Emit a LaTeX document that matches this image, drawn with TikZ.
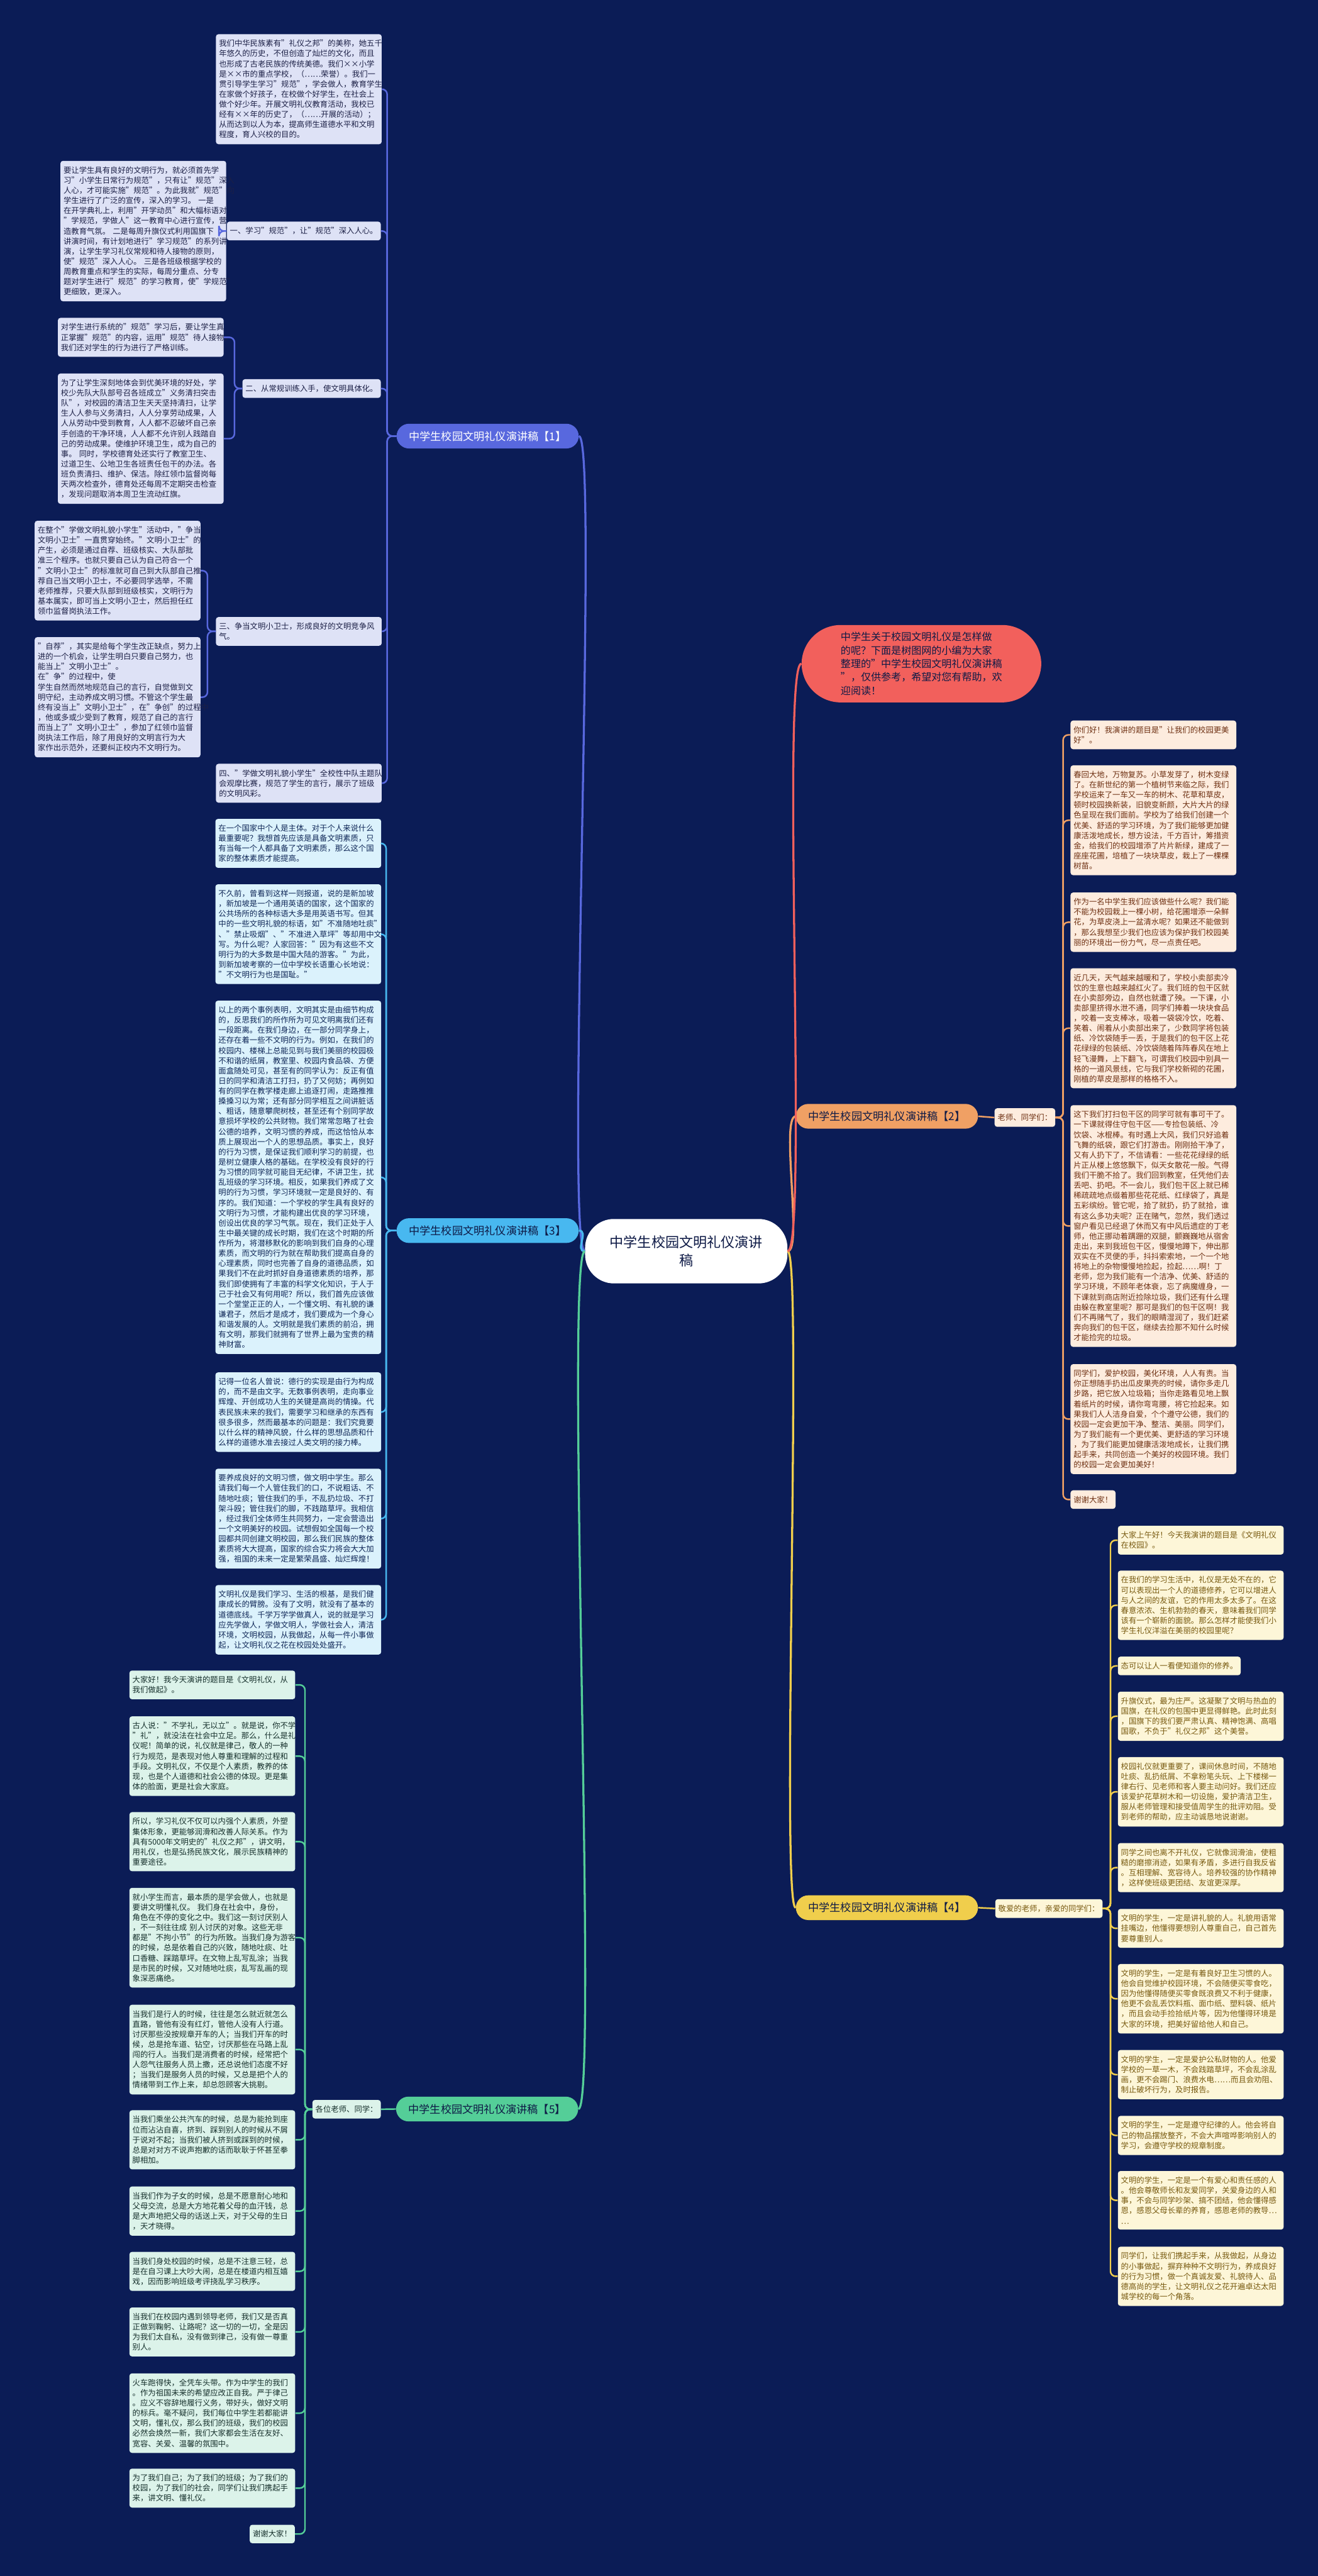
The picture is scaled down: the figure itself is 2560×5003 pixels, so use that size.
\documentclass[tikz,border=0pt]{standalone}
\usepackage{fontspec}
\setmainfont{Noto Sans CJK SC}
\definecolor{bg}{RGB}{11,28,86}
\definecolor{fA}{RGB}{222,226,246}\definecolor{tA}{RGB}{28,32,70}\definecolor{cA}{RGB}{88,104,222}
\definecolor{fC}{RGB}{219,242,252}\definecolor{tC}{RGB}{16,40,88}\definecolor{cC}{RGB}{72,184,240}
\definecolor{fE}{RGB}{220,243,234}\definecolor{tE}{RGB}{22,48,44}\definecolor{cE}{RGB}{84,206,152}
\definecolor{fB}{RGB}{253,236,222}\definecolor{tB}{RGB}{110,48,18}\definecolor{cB}{RGB}{240,160,100}
\definecolor{fD}{RGB}{253,246,216}\definecolor{tD}{RGB}{120,90,16}\definecolor{cD}{RGB}{240,206,76}
\definecolor{pk}{RGB}{242,96,92}\definecolor{navy}{RGB}{14,26,70}
\begin{document}
\begin{tikzpicture}[x=0.5pt,y=-0.5pt,
  box/.style={rounded corners=2.5pt, inner xsep=3pt, inner ysep=5.5pt, align=left,
    font=\fontsize{7.55pt}{9.85pt}\selectfont},
  wbox/.style={box, text width=155pt},
  sA/.style={fill=fA, text=tA}, sC/.style={fill=fC, text=tC}, sE/.style={fill=fE, text=tE},
  sB/.style={fill=fB, text=tB}, sD/.style={fill=fD, text=tD},
  lab/.style={rounded corners=12pt, minimum height=24pt, inner xsep=12pt,
    font=\fontsize{10.5pt}{12pt}\selectfont},
  con/.style={line width=1.5pt, rounded corners=5pt},
  main/.style={line width=2pt}]
\useasboundingbox (0,0) rectangle (2560,5003);
\fill[bg] (0,0) rectangle (2560,5003);

% ---------------- centre
\node[fill=white, text=navy, rounded corners=28pt, inner xsep=24pt, inner ysep=16pt, align=center,
  font=\fontsize{13.5pt}{18pt}\selectfont] (C) at (1333,2430) {中学生校园文明礼仪演讲\\稿};

% ---------------- pink
\node[fill=pk, text=navy, rounded corners=38pt, inner xsep=38pt, inner ysep=7pt, align=left,
  font=\fontsize{9.8pt}{13pt}\selectfont, anchor=east] (P) at (2023,1289) {中学生关于校园文明礼仪是怎样做\\的呢？下面是树图网的小编为大家\\整理的"中学生校园文明礼仪演讲稿\\"，仅供参考，希望对您有帮助，欢\\迎阅读！};

% ---------------- labels
\node[lab, fill=cA, text=white, anchor=west] (L1) at (770,847) {中学生校园文明礼仪演讲稿【1】};
\node[lab, fill=cC, text=navy, anchor=west] (L3) at (770,2390) {中学生校园文明礼仪演讲稿【3】};
\node[lab, fill=cE, text=navy, anchor=west] (L5) at (769,4096) {中学生校园文明礼仪演讲稿【5】};
\node[lab, fill=cB, text=navy, anchor=east] (L2) at (1900,2168) {中学生校园文明礼仪演讲稿【2】};
\node[lab, fill=cD, text=navy, anchor=east] (L4) at (1900,3705) {中学生校园文明礼仪演讲稿【4】};

% ---------------- branch 1
\node[wbox,sA,anchor=north west] (a0) at (419,66) {我们中华民族素有"礼仪之邦"的美称，她五千\\年悠久的历史，不但创造了灿烂的文化，而且\\也形成了古老民族的传统美德。我们××小学\\是××市的重点学校，（……荣誉）。我们一\\贯引导学生学习"规范"，学会做人，教育学生\\在家做个好孩子，在校做个好学生，在社会上\\做个好少年。开展文明礼仪教育活动，我校已\\经有××年的历史了，（……开展的活动）；\\从而达到以人为本，提高师生道德水平和文明\\程度，育人兴校的目的。};
\node[box,sA,anchor=north east] (a1) at (740,430) {一、学习"规范"，让"规范"深入人心。};
\node[wbox,sA,anchor=north west] (a1c) at (117,312) {要让学生具有良好的文明行为，就必须首先学\\习"小学生日常行为规范"，只有让"规范"深入\\人心，才可能实施"规范"。为此我就"规范"向\\学生进行了广泛的宣传，深入的学习。 一是\\在开学典礼上，利用"开学动员"和大幅标语对\\"学规范，学做人"这一教育中心进行宣传，营\\造教育气氛。 二是每周升旗仪式利用国旗下\\讲演时间，有计划地进行"学习规范"的系列讲\\演，让学生学习礼仪常规和待人接物的原则，\\使"规范"深入人心。 三是各班级根据学校的\\周教育重点和学生的实际，每周分重点、分专\\题对学生进行"规范"的学习教育，使"学规范"\\更细致，更深入。};
\node[box,sA,anchor=north east] (a2) at (740,736) {二、从常规训练入手，使文明具体化。};
\node[wbox,sA,anchor=north west] (a2c1) at (112,617) {对学生进行系统的"规范"学习后，要让学生真\\正掌握"规范"的内容，运用"规范"待人接物，\\我们还对学生的行为进行了严格训练。};
\node[wbox,sA,anchor=north west] (a2c2) at (112,725) {为了让学生深刻地体会到优美环境的好处，学\\校少先队大队部号召各班成立"义务清扫突击\\队"，对校园的清洁卫生天天坚持清扫，让学\\生人人参与义务清扫，人人分享劳动成果，人\\人从劳动中受到教育，人人都不忍破坏自己亲\\手创造的干净环境，人人都不允许别人践踏自\\己的劳动成果。使维护环境卫生，成为自己的\\事。 同时，学校德育处还实行了教室卫生、\\过道卫生、公地卫生各班责任包干的办法。各\\班负责清扫、维护、保洁。除红领巾监督岗每\\天两次检查外，德育处还每周不定期突击检查\\，发现问题取消本周卫生流动红旗。};
\node[wbox,sA,anchor=north west] (a3) at (419,1198) {三、争当文明小卫士，形成良好的文明竞争风\\气。};
\node[wbox,sA,anchor=north west] (a3c1) at (67,1011) {在整个"学做文明礼貌小学生"活动中，"争当\\文明小卫士"一直贯穿始终。"文明小卫士"的\\产生，必须是通过自荐、班级核实、大队部批\\准三个程序。也就只要自己认为自己符合一个\\"文明小卫士"的标准就可自己到大队部自己推\\荐自己当文明小卫士，不必要同学选举，不需\\老师推荐，只要大队部到班级核实，文明行为\\基本属实，即可当上文明小卫士，然后担任红\\领巾监督岗执法工作。};
\node[wbox,sA,anchor=north west] (a3c2) at (67,1237) {"自荐"，其实是给每个学生改正缺点，努力上\\进的一个机会，让学生明白只要自己努力，也\\能当上"文明小卫士"。 在"争"的过程中，使\\学生自然而然地规范自己的言行，自觉做到文\\明守纪，主动养成文明习惯。不管这个学生最\\终有没当上"文明小卫士"，在"争创"的过程中\\，他或多或少受到了教育，规范了自己的言行\\而当上了"文明小卫士"，参加了红领巾监督\\岗执法工作后，除了用良好的文明言行为大\\家作出示范外，还要纠正校内不文明行为。};
\node[wbox,sA,anchor=north west] (a4) at (419,1483) {四、"学做文明礼貌小学生"全校性中队主题队\\会观摩比赛，规范了学生的言行，展示了班级\\的文明风彩。};

\foreach \n in {a0,a1,a2,a3,a4} \draw[con,cA] (L1.west) -- +(-18,0) |- (\n.east);
\draw[con,cA] (a1.west) -- +(-15,0) |- (a1c.east);
\foreach \n in {a2c1,a2c2} \draw[con,cA] (a2.west) -- +(-15,0) |- (\n.east);
\foreach \n in {a3c1,a3c2} \draw[con,cA] (a3.west) -- +(-16,0) |- (\n.east);

% ---------------- branch 3
\node[wbox,sC,anchor=north west] (b1) at (418,1590) {在一个国家中个人是主体。对于个人来说什么\\最重要呢？我想首先应该是具备文明素质，只\\有当每一个人都具备了文明素质，那么这个国\\家的整体素质才能提高。};
\node[wbox,sC,anchor=north west] (b2) at (418,1717) {不久前，曾看到这样一则报道，说的是新加坡\\，新加坡是一个通用英语的国家，这个国家的\\公共场所的各种标语大多是用英语书写。但其\\中的一些文明礼貌的标语，如"不准随地吐痰"\\、"禁止吸烟"、"不准进入草坪"等却用中文书\\写。为什么呢？人家回答："因为有这些不文\\明行为的大多数是中国大陆的游客。"为此，\\到新加坡考察的一位中学校长语重心长地说：\\"不文明行为也是国耻。"};
\node[wbox,sC,anchor=north west] (b3) at (418,1943) {以上的两个事例表明，文明其实是由细节构成\\的，反思我们的所作所为可见文明离我们还有\\一段距离。在我们身边，在一部分同学身上，\\还存在着一些不文明的行为。例如，在我们的\\校园内、楼梯上总能见到与我们美丽的校园极\\不和谐的纸屑，教室里、校园内食品袋、方便\\面盒随处可见，甚至有的同学认为：反正有值\\日的同学和清洁工打扫，扔了又何妨；再例如\\有的同学在教学楼走廊上追逐打闹，走路推推\\搡搡习以为常；还有部分同学相互之间讲脏话\\、粗话，随意攀爬树枝，甚至还有个别同学故\\意损坏学校的公共财物。我们常常忽略了社会\\公德的培养，文明习惯的养成，而这恰恰从本\\质上展现出一个人的思想品质。事实上，良好\\的行为习惯，是保证我们顺利学习的前提，也\\是树立健康人格的基础。在学校没有良好的行\\为习惯的同学就可能目无纪律，不讲卫生，扰\\乱班级的学习环境。相反，如果我们养成了文\\明的行为习惯，学习环境就一定是良好的、有\\序的。我们知道：一个学校的学生具有良好的\\文明行为习惯，才能构建出优良的学习环境，\\创设出优良的学习气氛。现在，我们正处于人\\生中最关键的成长时期，我们在这个时期的所\\作所为，将潜移默化的影响到我们自身的心理\\素质，而文明的行为就在帮助我们提高自身的\\心理素质，同时也完善了自身的道德品质，如\\果我们不在此时抓好自身道德素质的培养，那\\我们即使拥有了丰富的科学文化知识，于人于\\己于社会又有何用呢？所以，我们首先应该做\\一个堂堂正正的人，一个懂文明、有礼貌的谦\\谦君子，然后才是成才，我们要成为一个身心\\和谐发展的人。文明就是我们素质的前沿，拥\\有文明，那我们就拥有了世界上最为宝贵的精\\神财富。};
\node[wbox,sC,anchor=north west] (b4) at (418,2665) {记得一位名人曾说：德行的实现是由行为构成\\的，而不是由文字。无数事例表明，走向事业\\辉煌、开创成功人生的关键是高尚的情操。代\\表民族未来的我们，需要学习和继承的东西有\\很多很多，然而最基本的问题是：我们究竟要\\以什么样的精神风貌，什么样的思想品质和什\\么样的道德水准去接过人类文明的接力棒。};
\node[wbox,sC,anchor=north west] (b5) at (418,2852) {要养成良好的文明习惯，做文明中学生。那么\\请我们每一个人管住我们的口，不说粗话、不\\随地吐痰；管住我们的手，不乱扔垃圾、不打\\架斗殴；管住我们的脚，不践踏草坪。我相信\\，经过我们全体师生共同努力，一定会营造出\\一个文明美好的校园。试想假如全国每一个校\\园都共同创建文明校园，那么我们民族的整体\\素质将大大提高，国家的综合实力将会大大加\\强，祖国的未来一定是繁荣昌盛、灿烂辉煌！};
\node[wbox,sC,anchor=north west] (b6) at (418,3078) {文明礼仪是我们学习、生活的根基，是我们健\\康成长的臂膀。没有了文明，就没有了基本的\\道德底线。千学万学学做真人，说的就是学习\\应先学做人，学做文明人，学做社会人，清洁\\环境，文明校园，从我做起，从每一件小事做\\起，让文明礼仪之花在校园处处盛开。};
\foreach \n in {b1,b2,b3,b4,b5,b6} \draw[con,cC] (L3.west) -- +(-20,0) |- (\n.east);

% ---------------- branch 5
\node[box,sE,anchor=north east] (c0) at (740,4078) {各位老师、同学：};
\node[wbox,sE,anchor=north west] (c1) at (251,3244) {大家好！我今天演讲的题目是《文明礼仪，从\\我们做起》。};
\node[wbox,sE,anchor=north west] (c2) at (251,3333) {古人说："不学礼，无以立"。就是说，你不学\\"礼"，就没法在社会中立足。那么，什么是礼\\仪呢！简单的说，礼仪就是律己，敬人的一种\\行为规范，是表现对他人尊重和理解的过程和\\手段。文明礼仪，不仅是个人素质，教养的体\\现，也是个人道德和社会公德的体现。更是集\\体的脸面，更是社会大家庭。};
\node[wbox,sE,anchor=north west] (c3) at (251,3519) {所以，学习礼仪不仅可以内强个人素质，外塑\\集体形象，更能够润滑和改善人际关系。作为\\具有5000年文明史的"礼仪之邦"，讲文明，\\用礼仪，也是弘扬民族文化，展示民族精神的\\重要途径。};
\node[wbox,sE,anchor=north west] (c4) at (251,3666) {就小学生而言，最本质的是学会做人，也就是\\要讲文明懂礼仪。 我们身在社会中，身份，\\角色在不停的变化之中。我们这一刻讨厌别人\\，不一刻往往成 别人讨厌的对象。这些无非\\都是"不拘小节"的行为所致。当我们身为游客\\的时候，总是依着自己的兴致，随地吐痰、吐\\口香糖、踩踏草坪。在文物上乱写乱涂；当我\\是市民的时候，又对随地吐痰，乱写乱画的现\\象深恶痛绝。};
\node[wbox,sE,anchor=north west] (c5) at (251,3893) {当我们是行人的时候，往往是怎么就近就怎么\\直路，管他有没有红灯，管他人没有人行道。\\讨厌那些没按规章开车的人；当我们开车的时\\候，总是抢车道、钻空，讨厌那些在马路上乱\\闯的行人。当我们是消费者的时候，经常把个\\人怨气往服务人员上撒，还总说他们态度不好\\；当我们是服务人员的时候，又总是把个人的\\情绪带到工作上来，却总怨顾客大挑剔。};
\node[wbox,sE,anchor=north west] (c6) at (251,4098) {当我们乘坐公共汽车的时候，总是为能抢到座\\位而沾沾自喜，挤到、踩到别人的时候从不屑\\于说对不起；当我们被人挤到或踩到的时候，\\总是对对方不说声抱歉的话而耿耿于怀甚至拳\\脚相加。};
\node[wbox,sE,anchor=north west] (c7) at (251,4246) {当我们作为子女的时候，总是不愿意耐心地和\\父母交流，总是大方地花着父母的血汗钱，总\\是大声地把父母的话送上天，对于父母的生日\\，天才晓得。};
\node[wbox,sE,anchor=north west] (c8) at (251,4373) {当我们身处校园的时候，总是不注意三轻，总\\是在自习课上大吵大闹，总是在楼道内相互嬉\\戏，因而影响班级考评挠乱学习秩序。};
\node[wbox,sE,anchor=north west] (c9) at (251,4481) {当我们在校园内遇到领导老师，我们又是否真\\正做到鞠躬、让路呢？这一切的一切，全是因\\为我们太自私，没有做到律己，没有做一尊重\\别人。};
\node[wbox,sE,anchor=north west] (c10) at (251,4609) {火车跑得快，全凭车头带。作为中学生的我们\\。作为祖国未来的希望应改正自我。严于律己\\。应义不容辞地履行义务，带好头，做好文明\\的标兵。毫不疑问，我们每位中学生若都能讲\\文明，懂礼仪，那么我们的班级，我们的校园\\必然会焕然一新，我们大家都会生活在友好、\\宽容、关爱、温馨的氛围中。};
\node[wbox,sE,anchor=north west] (c11) at (251,4794) {为了我们自己；为了我们的班级；为了我们的\\校园，为了我们的社会，同学们让我们携起手\\来，讲文明、懂礼仪。};
\node[box,sE,anchor=north east] (c12) at (573,4903) {谢谢大家！};
\draw[con,cE] (L5.west) -- (c0.east);
\foreach \n in {c1,c2,c3,c4,c5,c6,c7,c8,c9,c10,c11,c12} \draw[con,cE] (c0.west) -- +(-14,0) |- (\n.east);

% ---------------- branch 2
\node[box,sB,anchor=north east] (d0) at (2050,2152) {老师、同学们：};
\node[wbox,sB,anchor=north west] (d1) at (2079,1399) {你们好！我演讲的题目是"让我们的校园更美\\好"。};
\node[wbox,sB,anchor=north west] (d2) at (2079,1486) {春回大地，万物复苏。小草发芽了，树木变绿\\了。在新世纪的第一个植树节来临之际，我们\\学校运来了一车又一车的树木、花草和草皮，\\顿时校园换新装，旧貌变新颜，大片大片的绿\\色呈现在我们面前。学校为了给我们创建一个\\优美、舒适的学习环境，为了我们能够更加健\\康活泼地成长，想方设法，千方百计，筹措资\\金，给我们的校园增添了片片新绿，建成了一\\座座花圃，培植了一块块草皮，栽上了一棵棵\\树苗。};
\node[wbox,sB,anchor=north west] (d3) at (2079,1733) {作为一名中学生我们应该做些什么呢？我们能\\不能为校园栽上一棵小树，给花圃增添一朵鲜\\花，为草皮浇上一盆清水呢？如果还不能做到\\，那么我想至少我们也应该为保护我们校园美\\丽的环境出一份力气，尽一点责任吧。};
\node[wbox,sB,anchor=north west] (d4) at (2079,1880) {近几天，天气越来越暖和了，学校小卖部卖冷\\饮的生意也越来越红火了。我们班的包干区就\\在小卖部旁边，自然也就遭了殃。一下课，小\\卖部里挤得水泄不通，同学们捧着一块块食品\\，咬着一支支棒冰，吸着一袋袋冷饮，吃着、\\笑着、闹着从小卖部出来了，少数同学将包装\\纸、冷饮袋随手一丢，于是我们的包干区上花\\花绿绿的包装纸、冷饮袋随着阵阵春风在地上\\轻飞漫舞，上下翻飞，可谓我们校园中别具一\\格的一道风景线，它与我们学校新砌的花圃，\\刚植的草皮是那样的格格不入。};
\node[wbox,sB,anchor=north west] (d5) at (2079,2146) {这下我们打扫包干区的同学可就有事可干了。\\一下课就得住守包干区——专捡包装纸、冷\\饮袋、冰棍棒。有时遇上大风，我们只好追着\\飞舞的纸袋，跟它们打游击。刚刚拾干净了，\\又有人扔下了，不信请看：一些花花绿绿的纸\\片正从楼上悠悠飘下，似天女散花一般。气得\\我们干脆不拾了。我们回到教室，任凭他们去\\丢吧、扔吧。不一会儿，我们包干区上就已稀\\稀疏疏地点缀着那些花花纸、红绿袋了，真是\\五彩缤纷。管它呢，拾了就扔，扔了就拾，谁\\有这么多功夫呢？正在赌气，忽然，我们透过\\窗户看见已经退了休而又有中风后遗症的丁老\\师，他正挪动着蹒跚的双腿，颤巍巍地从宿舍\\走出，来到我班包干区，慢慢地蹲下，伸出那\\双实在不灵便的手，抖抖索索地，一个一个地\\将地上的杂物慢慢地捡起，捡起……啊！丁\\老师，您为我们能有一个洁净、优美、舒适的\\学习环境，不顾年老体衰，忘了病魔缠身，一\\下课就到商店附近捡除垃圾，我们还有什么理\\由躲在教室里呢？那可是我们的包干区啊！我\\们不再赌气了，我们的眼睛湿润了，我们赶紧\\奔向我们的包干区，继续去捡那不知什么时候\\才能捡完的垃圾。};
\node[wbox,sB,anchor=north west] (d6) at (2079,2649) {同学们，爱护校园，美化环境，人人有责。当\\你正想随手扔出瓜皮果壳的时候，请你多走几\\步路，把它放入垃圾箱；当你走路看见地上飘\\着纸片的时候，请你弯弯腰，将它捡起来。如\\果我们人人洁身自爱，个个遵守公德，我们的\\校园一定会更加干净、整洁、美丽。同学们，\\为了我们能有一个更优美、更舒适的学习环境\\，为了我们能更加健康活泼地成长，让我们携\\起手来，共同创造一个美好的校园环境。我们\\的校园一定会更加美好！};
\node[box,sB,anchor=north west] (d7) at (2079,2894) {谢谢大家！};
\draw[con,cB] (L2.east) -- (d0.west);
\foreach \n in {d1,d2,d3,d4,d5,d6,d7} \draw[con,cB] (d0.east) -- +(15,0) |- (\n.west);

% ---------------- branch 4
\node[box,sD,anchor=north east] (e0) at (2142,3688) {敬爱的老师，亲爱的同学们：};
\node[wbox,sD,anchor=north west] (e1) at (2171,2963) {大家上午好！今天我演讲的题目是《文明礼仪\\在校园》。};
\node[wbox,sD,anchor=north west] (e2) at (2171,3050) {在我们的学习生活中，礼仪是无处不在的，它\\可以表现出一个人的道德修养，它可以增进人\\与人之间的友谊，它的作用太多太多了。在这\\春意浓浓、生机勃勃的春天，意味着我们同学\\该有一个崭新的面貌。那么怎样才能使我们小\\学生礼仪洋溢在美丽的校园里呢？};
\node[box,sD,anchor=north west] (e3) at (2171,3217) {态可以让人一看便知道你的修养。};
\node[wbox,sD,anchor=north west] (e4) at (2171,3285) {升旗仪式，最为庄严。这凝聚了文明与热血的\\国旗，在礼仪的包围中更显得鲜艳。此时此刻\\，国旗下的我们要严肃认真、精神饱满、高唱\\国歌，不负于"礼仪之邦"这个美誉。};
\node[wbox,sD,anchor=north west] (e5) at (2171,3412) {校园礼仪就更重要了，课间休息时间，不随地\\吐痰、乱扔纸屑、不拿粉笔头玩、上下楼梯一\\律右行、见老师和客人要主动问好。我们还应\\该爱护花草树木和一切设施，爱护清洁卫生，\\服从老师管理和接受值周学生的批评劝阻。受\\到老师的帮助，应主动诚恳地说谢谢。};
\node[wbox,sD,anchor=north west] (e6) at (2171,3579) {同学之间也离不开礼仪，它就像润滑油，使粗\\糙的磨擦消迹，如果有矛盾，多进行自我反省\\。互相理解、宽容待人。培养较强的协作精神\\，这样使班级更团结、友谊更深厚。};
\node[wbox,sD,anchor=north west] (e7) at (2171,3707) {文明的学生，一定是讲礼貌的人。礼貌用语常\\挂嘴边，他懂得要想别人尊重自己，自己首先\\要尊重别人。};
\node[wbox,sD,anchor=north west] (e8) at (2171,3814) {文明的学生，一定是有着良好卫生习惯的人。\\他会自觉维护校园环境，不会随便买零食吃，\\因为他懂得随便买零食既浪费又不利于健康，\\他更不会乱丢饮料瓶、面巾纸、塑料袋、纸片\\，而且会动手捡拾纸片等，因为他懂得环境是\\大家的环境，把美好留给他人和自己。};
\node[wbox,sD,anchor=north west] (e9) at (2171,3981) {文明的学生，一定是爱护公私财物的人。他爱\\学校的一草一木，不会践踏草坪，不会乱涂乱\\画，更不会踢门、浪费水电……而且会劝阻、\\制止破坏行为，及时报告。};
\node[wbox,sD,anchor=north west] (e10) at (2171,4109) {文明的学生，一定是遵守纪律的人。他会将自\\己的物品摆放整齐，不会大声喧哗影响别人的\\学习，会遵守学校的规章制度。};
\node[wbox,sD,anchor=north west] (e11) at (2171,4216) {文明的学生，一定是一个有爱心和责任感的人\\。他会尊敬师长和友爱同学，关爱身边的人和\\事，不会与同学吵架、搞不团结，他会懂得感\\恩，感恩父母长辈的养育，感恩老师的教导…\\…};
\node[wbox,sD,anchor=north west] (e12) at (2171,4363) {同学们，让我们携起手来，从我做起，从身边\\的小事做起，摒弃种种不文明行为，养成良好\\的行为习惯，做一个真诚友爱、礼貌待人、品\\德高尚的学生，让文明礼仪之花开遍卓达太阳\\城学校的每一个角落。};
\draw[con,cD] (L4.east) -- (e0.west);
\foreach \n in {e1,e2,e3,e4,e5,e6,e7,e8,e9,e10,e11,e12} \draw[con,cD] (e0.east) -- +(15,0) |- (\n.west);

% ---------------- main curves
\draw[main,cA] (C.west) .. controls +(-40,0) and +(40,0) .. (L1.east);
\draw[main,cC] (C.west) .. controls +(-20,0) and +(20,0) .. (L3.east);
\draw[main,cE] (C.west) .. controls +(-40,0) and +(40,0) .. (L5.east);
\draw[main,cB] (C.east) .. controls +(30,0) and +(-30,0) .. (L2.west);
\draw[main,cD] (C.east) .. controls +(30,0) and +(-30,0) .. (L4.west);
\draw[main,pk] (C.east) .. controls +(40,0) and +(-40,0) .. (P.west);
\end{tikzpicture}
\end{document}
